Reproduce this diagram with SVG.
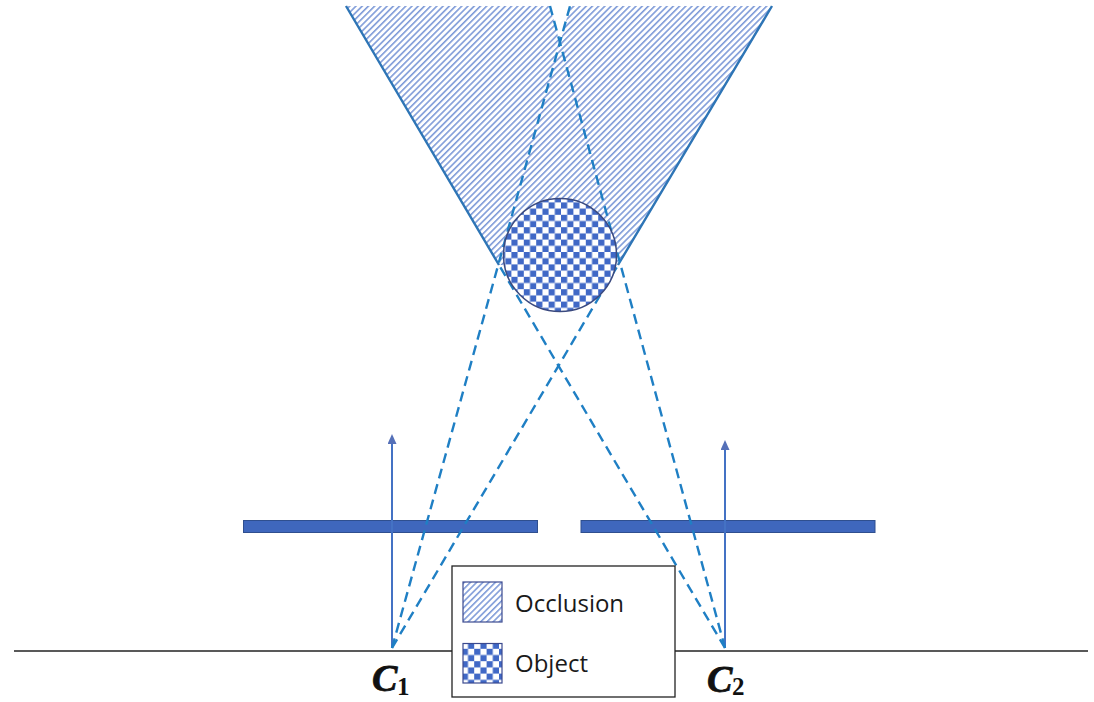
<svg xmlns="http://www.w3.org/2000/svg" width="1094" height="702" viewBox="0 0 1094 702">
<style>
.ray{fill:none;stroke:#1f7fc4;stroke-width:2.4;stroke-dasharray:10 6}
.edge{fill:none;stroke:#2e75b6;stroke-width:2.4}
.axis{fill:none;stroke:#4472c4;stroke-width:2;marker-end:url(#ah)}
.bar{fill:#3f67bd;stroke:#2f4f8f;stroke-width:1}
.sw{stroke:#3b4a8f;stroke-width:1.2}
.lab{font-family:"Open Sans","Liberation Sans",sans-serif;font-size:24px;fill:#1a1a1a}
.c{font-family:"Liberation Serif",serif;font-weight:bold;font-style:italic;font-size:38px;fill:#111;stroke:#111;stroke-width:.8}
.sub{font-family:"Liberation Serif",serif;font-weight:bold;font-size:25px;fill:#111}
</style>
<defs>
<pattern id="hatch" width="4.4" height="4.4" patternUnits="userSpaceOnUse" patternTransform="rotate(-45)">
<rect width="4.4" height="4.4" fill="#fff"/><rect width="4.4" height="1.6" fill="#7f9bd8"/>
</pattern>
<pattern id="check" width="12.4" height="12.4" patternUnits="userSpaceOnUse" x="3" y="4">
<rect width="12.4" height="12.4" fill="#fff"/><rect width="6.2" height="6.2" fill="#4068c6"/><rect x="6.2" y="6.2" width="6.2" height="6.2" fill="#4068c6"/>
</pattern>
<marker id="ah" markerWidth="12" markerHeight="10" refX="8" refY="4.5" orient="auto" markerUnits="userSpaceOnUse">
<path d="M0 0L10 4.500L0 9Z" fill="#5570b8"/>
</marker>
</defs>
<g id="occlusion">
<path d="M346 6L499 265L618 265L772 6L570 6L560 44L550 6Z" fill="url(#hatch)"/>
</g>
<g id="baseline"><line x1="14" y1="651" x2="1088" y2="651" stroke="#222" stroke-width="1.4"/></g>
<g id="sensor-bars">
<rect class="bar" x="243.500" y="520.500" width="294" height="12"/>
<rect class="bar" x="581" y="520.500" width="294" height="12"/>
</g>
<g id="connectors">
<path class="edge" d="M346 6L499 265M772 6L618 265"/>
<path class="axis" d="M392 648V436"/>
<path class="axis" d="M725 648V442"/>
<path class="ray" d="M392 648L570 6"/>
<path class="ray" d="M392 648L618 265"/>
<path class="ray" d="M725 648L550 6"/>
<path class="ray" d="M725 648L499 265"/>
</g>
<g id="object">
<circle cx="560" cy="255" r="56.500" fill="url(#check)" stroke="#3b4a7f" stroke-width="1.500"/>
</g>
<g id="legend">
<rect x="452" y="566" width="223" height="131" fill="#fff" stroke="#222" stroke-width="1.300"/>
<rect class="sw" x="463" y="582" width="39" height="40" fill="url(#hatch)"/>
<rect class="sw" x="463" y="643.500" width="39" height="39.500" fill="url(#check)"/>
<text class="lab" x="515" y="612">Occlusion</text>
<text class="lab" x="515" y="672">Object</text>
</g>
<g id="c1"><text class="c" x="372" y="691">C</text><text class="sub" x="397" y="695">1</text></g>
<g id="c2"><text class="c" x="707" y="692">C</text><text class="sub" x="732" y="695">2</text></g>
</svg>
